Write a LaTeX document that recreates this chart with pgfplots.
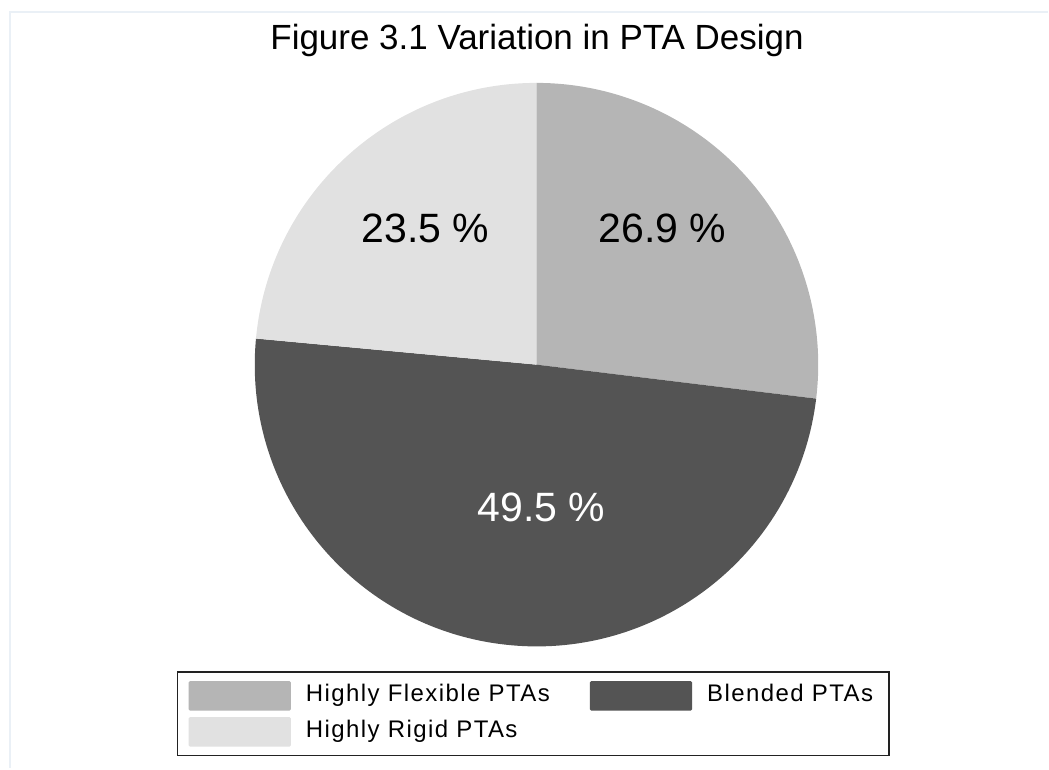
\documentclass[border=0pt]{standalone}
\usepackage{pgfplots}
\pgfplotsset{compat=1.18}
\usepackage{pgfplotstable}
\usepackage{fontspec}
\setmainfont{Liberation Sans}
\newfontfamily\legfont[LetterSpace=6]{Liberation Sans}
\definecolor{flex}{RGB}{181,181,181}
\definecolor{blend}{RGB}{84,84,84}
\definecolor{rigid}{RGB}{225,225,225}
\definecolor{framec}{RGB}{234,240,246}
\definecolor{legborder}{RGB}{34,34,34}
\pgfplotstableread{
label value
Flexible 26.9
Blended 49.5
Rigid 23.5
}\piedata
\begin{document}
\begin{tikzpicture}
\pgfplotstablegetelem{0}{value}\of\piedata \let\va\pgfplotsretval
\pgfplotstablegetelem{1}{value}\of\piedata \let\vb\pgfplotsretval
\pgfplotstablegetelem{2}{value}\of\piedata \let\vc\pgfplotsretval
\pgfmathsetmacro\tot{\va+\vb+\vc}
\pgfmathsetmacro\unitang{360/\tot}
\pgfmathsetmacro\aA{90}
\pgfmathsetmacro\aB{90-\unitang*\va}
\pgfmathsetmacro\aC{\aB-\unitang*\vb}
\pgfmathsetmacro\aD{\aC-\unitang*\vc}
\begin{axis}[
  scale only axis, width=1049pt, height=769pt,
  xmin=0, xmax=1049, ymin=0, ymax=769,
  hide axis, clip=false,
  legend columns=2,
  legend cell align=left,
  legend style={at={(axis cs:177,97)}, anchor=north west,
    draw=legborder, line width=1.5pt, inner xsep=11pt, inner ysep=9pt,
    row sep=6.5pt,
    nodes={inner xsep=0pt, inner ysep=0pt, text height=17pt, text depth=5pt,
      font=\legfont\fontsize{24}{28}\selectfont},
    /tikz/every even column/.append style={column sep=40pt}},
]
\addlegendimage{legend image code/.code={\fill[flex, rounded corners=1pt] (0pt,-14pt) rectangle (101pt,14pt); \path (116pt,0pt);}}
\addlegendentry{Highly Flexible PTAs}
\addlegendimage{legend image code/.code={\fill[blend, rounded corners=1pt] (0pt,-14pt) rectangle (101pt,14pt); \path (116pt,0pt);}}
\addlegendentry{Blended PTAs\hspace*{5pt}}
\addlegendimage{legend image code/.code={\fill[rigid, rounded corners=1pt] (0pt,-14pt) rectangle (101pt,14pt); \path (116pt,0pt);}}
\addlegendentry{Highly Rigid PTAs}
\path (axis cs:0,0) rectangle (axis cs:1049,769);
\draw[framec, line width=2pt] (axis cs:1049,757) -- (axis cs:10,757) -- (axis cs:10,0);
\fill[flex] (axis cs:537,404) -- ++(\aA:282pt) arc[start angle=\aA, end angle=\aB, radius=282pt] -- cycle;
\fill[blend] (axis cs:537,404) -- ++(\aB:282pt) arc[start angle=\aB, end angle=\aC, radius=282pt] -- cycle;
\fill[rigid] (axis cs:537,404) -- ++(\aC:282pt) arc[start angle=\aC, end angle=\aD, radius=282pt] -- cycle;
\node[font=\fontsize{41}{48}\selectfont, anchor=base] at (axis cs:663,526) {\va\ \%};
\node[font=\fontsize{41}{48}\selectfont, anchor=base, white] at (axis cs:542,247) {\vb\ \%};
\node[font=\fontsize{41}{48}\selectfont, anchor=base] at (axis cs:426,526) {\vc\ \%};
\node[font=\fontsize{35}{42}\selectfont, anchor=base] at (axis cs:537.5,719) {Figure 3.1 Variation in PTA Design};
\end{axis}
\end{tikzpicture}
\end{document}
